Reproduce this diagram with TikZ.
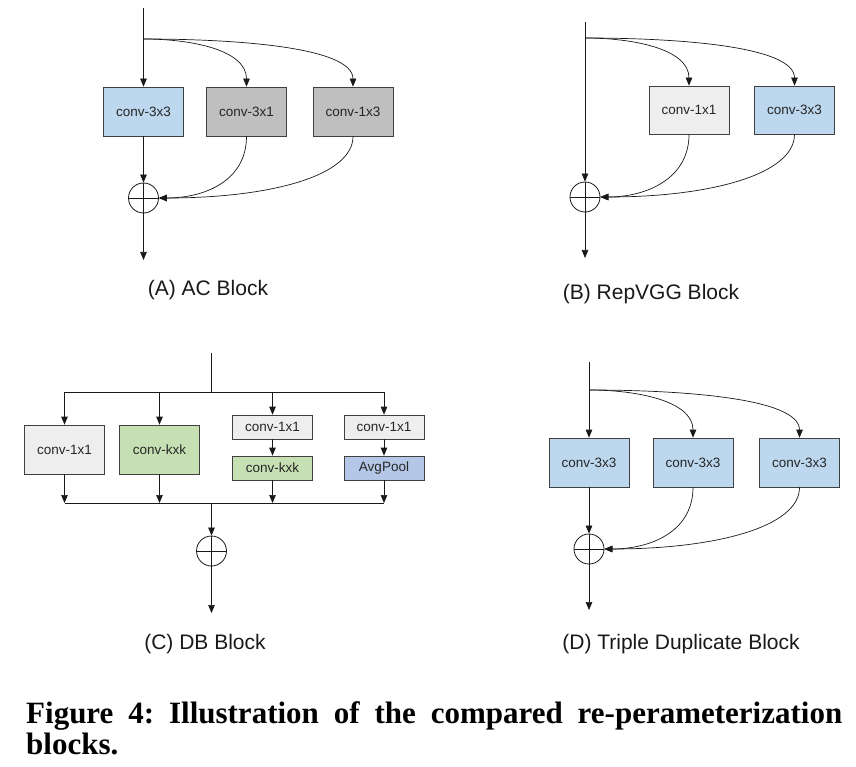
\documentclass[tikz,border=0pt]{standalone}
\usepackage{fontspec}
\setmainfont{Liberation Sans}
\newfontfamily\capfont{Liberation Serif}
\usetikzlibrary{arrows.meta}
\definecolor{cblue}{HTML}{BDD7EE}
\definecolor{cgray}{HTML}{BFBFBF}
\definecolor{clight}{HTML}{EEEEEE}
\definecolor{cgreen}{HTML}{C6E0B4}
\definecolor{cpool}{HTML}{B4C7E7}
\begin{document}
\begin{tikzpicture}[x=1pt,y=-1pt,
  blk/.style={draw=black!75, line width=0.7pt, minimum width=80pt, minimum height=49pt, inner sep=0pt, font=\fontsize{13.5}{13.5}\selectfont, text=black!85},
  sblk/.style={blk, minimum height=24pt},
  ln/.style={line width=0.7pt, draw=black!90},
  arr/.style={-{Triangle[length=8pt,width=6.5pt]}},
  plus/.style={circle, draw=black!90, line width=0.8pt, minimum size=30pt, inner sep=0pt,
    path picture={\draw[line width=0.7pt] (path picture bounding box.north) -- (path picture bounding box.south)
      (path picture bounding box.west) -- (path picture bounding box.east);}},
  lab/.style={anchor=base, font=\fontsize{21}{21}\selectfont, inner sep=0pt, text=black!90},
  capt/.style={anchor=base west, inner sep=0pt, font=\capfont\bfseries\fontsize{31}{31}\selectfont}
]
\useasboundingbox[fill=white] (0,0) rectangle (856,767);

% ---------- (A) AC Block
\coordinate (Ain) at (143.5,8);
\coordinate (As) at (143.5,39);
\node[blk, fill=cblue] (A1) at (143.5,111.5) {conv-3x3};
\node[blk, fill=cgray] (A2) at (246.5,111.5) {conv-3x1};
\node[blk, fill=cgray] (A3) at (353,111.5) {conv-1x3};
\node[plus] (Ap) at (143.5,198) {};
\coordinate (Aout) at (143.5,260);
\draw[ln] (Ain) -- (As);
\draw[ln,arr] (As) -- (A1.north);
\draw[ln,arr] (As) .. controls +(47,0) and +(0,-37) .. (A2.north);
\draw[ln,arr] (As) .. controls +(90,0) and +(0,-40) .. (A3.north);
\draw[ln,arr] (A1.south) -- (Ap.north);
\draw[ln,arr] (A2.south) .. controls +(0,45) and +(45,0) .. (Ap.east);
\draw[ln,arr] (A3.south) .. controls +(0,40) and +(110,0) .. (Ap.east);
\draw[ln,arr] (Ap.south) -- (Aout);
\node[lab] (Alab) at (208,295) {(A) AC Block};

% ---------- (B) RepVGG Block
\coordinate (Bin) at (585,22);
\coordinate (Bs) at (585,38);
\node[blk, fill=clight, minimum height=48pt] (B1) at (689,110) {conv-1x1};
\node[blk, fill=cblue, minimum height=48pt] (B2) at (794.5,110) {conv-3x3};
\node[plus] (Bp) at (585,197) {};
\coordinate (Bout) at (585,258);
\draw[ln,arr] (Bin) -- (Bp.north);
\draw[ln,arr] (Bs) .. controls +(47,0) and +(0,-37) .. (B1.north);
\draw[ln,arr] (Bs) .. controls +(90,0) and +(0,-40) .. (B2.north);
\draw[ln,arr] (B1.south) .. controls +(0,45) and +(45,0) .. (Bp.east);
\draw[ln,arr] (B2.south) .. controls +(0,40) and +(110,0) .. (Bp.east);
\draw[ln,arr] (Bp.south) -- (Bout);
\node[lab] (Blab) at (651,299) {(B) RepVGG Block};

% ---------- (C) DB Block
\coordinate (Cin) at (211.5,353);
\coordinate (Cs) at (211.5,392);
\coordinate (Ct1) at (64.5,392);
\coordinate (Ct4) at (384,392);
\node[blk, fill=clight] (C1) at (64.5,449.5) {conv-1x1};
\node[blk, fill=cgreen] (C2) at (159.5,449.5) {conv-kxk};
\node[sblk, fill=clight] (C3a) at (272.5,427) {conv-1x1};
\node[sblk, fill=cgreen] (C3b) at (272.5,468) {conv-kxk};
\node[sblk, fill=clight] (C4a) at (384,427) {conv-1x1};
\node[sblk, fill=cpool] (C4b) at (384,468) {AvgPool};
\coordinate (Cb1) at (64.5,503);
\coordinate (Cb2) at (159.5,503);
\coordinate (Cb3) at (272.5,503);
\coordinate (Cb4) at (384,503);
\coordinate (Cm) at (211.5,503);
\node[plus] (Cp) at (211.5,551) {};
\coordinate (Cout) at (211.5,613);
\draw[ln] (Cin) -- (Cs);
\draw[ln] (Ct1) -- (Ct4);
\draw[ln,arr] (Ct1) -- (C1.north);
\draw[ln,arr] (Cs -| C2) -- (C2.north);
\draw[ln,arr] (Cs -| C3a) -- (C3a.north);
\draw[ln,arr] (Ct4) -- (C4a.north);
\draw[ln,arr] (C3a.south) -- (C3b.north);
\draw[ln,arr] (C4a.south) -- (C4b.north);
\draw[ln] (Cb1) -- (Cb4);
\draw[ln,arr] (C1.south) -- (Cb1);
\draw[ln,arr] (C2.south) -- (Cb2);
\draw[ln,arr] (C3b.south) -- (Cb3);
\draw[ln,arr] (C4b.south) -- (Cb4);
\draw[ln,arr] (Cm) -- (Cp.north);
\draw[ln,arr] (Cp.south) -- (Cout);
\node[lab] (Clab) at (205,649) {(C) DB Block};

% ---------- (D) Triple Duplicate Block
\coordinate (Din) at (589,362);
\coordinate (Ds) at (589,390);
\node[blk, fill=cblue] (D1) at (589,462.5) {conv-3x3};
\node[blk, fill=cblue] (D2) at (693,462.5) {conv-3x3};
\node[blk, fill=cblue] (D3) at (799.5,462.5) {conv-3x3};
\node[plus] (Dp) at (589,549) {};
\coordinate (Dout) at (589,610);
\draw[ln] (Din) -- (Ds);
\draw[ln,arr] (Ds) -- (D1.north);
\draw[ln,arr] (Ds) .. controls +(47,0) and +(0,-37) .. (D2.north);
\draw[ln,arr] (Ds) .. controls +(90,0) and +(0,-40) .. (D3.north);
\draw[ln,arr] (D1.south) -- (Dp.north);
\draw[ln,arr] (D2.south) .. controls +(0,45) and +(45,0) .. (Dp.east);
\draw[ln,arr] (D3.south) .. controls +(0,40) and +(110,0) .. (Dp.east);
\draw[ln,arr] (Dp.south) -- (Dout);
\node[lab] (Dlab) at (681,649) {(D) Triple Duplicate Block};

% ---------- caption
\node[capt] (cap1) at (26,723) {\frenchspacing\makebox[816pt][s]{Figure 4: Illustration of the compared re-perameterization}};
\node[capt] (cap2) at (26,754) {blocks.};
\end{tikzpicture}
\end{document}
